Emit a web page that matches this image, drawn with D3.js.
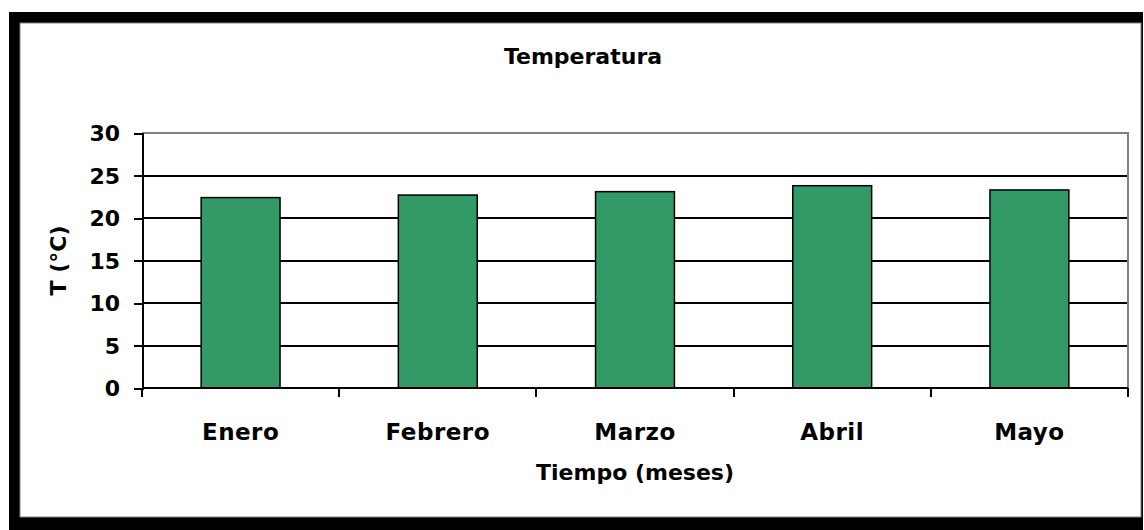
<!DOCTYPE html>
<html>
<head>
<meta charset="utf-8">
<script src="https://cdn.jsdelivr.net/npm/d3@7"></script>
<style>
  body { margin: 0; background: #fff; }
  text { font-family: "DejaVu Sans", sans-serif; font-weight: bold; fill: #000; }
</style>
</head>
<body>
<script>
const months = ["Enero", "Febrero", "Marzo", "Abril", "Mayo"];
const temps = [22.4, 22.7, 23.1, 23.8, 23.3];
const yTicks = [0, 5, 10, 15, 20, 25, 30];
const title = "Temperatura";
const xTitle = "Tiempo (meses)";
const yTitle = "T (°C)";

const W = 1144, H = 530;
const plot = {left: 142, right: 1128, top: 133, bottom: 388};

const svg = d3.select("body").append("svg")
  .attr("width", W).attr("height", H);

// frame: thick black border round the chart area
svg.append("rect").attr("x", 9).attr("y", 12)
  .attr("width", 1134).attr("height", 518).attr("fill", "#000");
svg.append("rect").attr("x", 20).attr("y", 23)
  .attr("width", 1121).attr("height", 494).attr("fill", "#fff")
  .attr("stroke", "#808080").attr("stroke-width", 1);

const x = d3.scaleBand().domain(months)
  .range([plot.left, plot.right])
  .paddingInner(0.6).paddingOuter(0.3);
const y = d3.scaleLinear().domain([0, 30]).range([plot.bottom, plot.top]);

// gridlines (hidden behind bars)
svg.append("g").selectAll("line")
  .data(yTicks.filter(d => d > 0 && d < 30))
  .join("line")
  .attr("x1", plot.left).attr("x2", plot.right)
  .attr("y1", d => Math.round(y(d))).attr("y2", d => Math.round(y(d)))
  .attr("stroke", "#000").attr("stroke-width", 2)
  .attr("shape-rendering", "crispEdges");

// plot area border, top and right
svg.append("path")
  .attr("d", `M${plot.left},${plot.top}H${plot.right}V${plot.bottom}`)
  .attr("fill", "none").attr("stroke", "#808080").attr("stroke-width", 2)
  .attr("shape-rendering", "crispEdges");

// bars
svg.append("g").selectAll("rect")
  .data(months)
  .join("rect")
  .attr("x", d => x(d))
  .attr("y", (d, i) => y(temps[i]))
  .attr("width", x.bandwidth())
  .attr("height", (d, i) => y(0) - y(temps[i]))
  .attr("fill", "#339966")
  .attr("stroke", "#000").attr("stroke-width", 1.5);

// y axis
const gy = svg.append("g")
  .attr("transform", `translate(${plot.left},0)`)
  .call(d3.axisLeft(y).tickValues(yTicks).tickSize(8).tickPadding(14));
gy.select(".domain").attr("stroke", "#000").attr("stroke-width", 2)
  .attr("shape-rendering", "crispEdges");
gy.selectAll(".tick line").attr("stroke", "#000").attr("stroke-width", 2)
  .attr("shape-rendering", "crispEdges");
gy.selectAll("text").style("font-size", "22px").attr("dy", "0.36em");

// x axis: labels centred in bands, ticks at category boundaries
const gap = (x.step() - x.bandwidth()) / 2;
const bounds = months.map(m => x(m) - gap)
  .concat([x(months[months.length - 1]) + x.bandwidth() + gap]);

const gx = svg.append("g")
  .attr("transform", `translate(0,${plot.bottom})`)
  .call(d3.axisBottom(x).tickSize(0).tickPadding(52));
gx.select(".domain").remove();
gx.selectAll("text").style("font-size", "23px").attr("dy", 0)
  .style("letter-spacing", "0.5px");

svg.append("line")
  .attr("x1", plot.left).attr("x2", plot.right)
  .attr("y1", plot.bottom).attr("y2", plot.bottom)
  .attr("stroke", "#000").attr("stroke-width", 2)
  .attr("shape-rendering", "crispEdges");
svg.append("g").selectAll("line")
  .data(bounds)
  .join("line")
  .attr("x1", d => Math.round(d)).attr("x2", d => Math.round(d))
  .attr("y1", plot.bottom).attr("y2", plot.bottom + 9)
  .attr("stroke", "#000").attr("stroke-width", 2)
  .attr("shape-rendering", "crispEdges");

// titles
svg.append("text")
  .attr("x", 583).attr("y", 64)
  .attr("text-anchor", "middle")
  .style("font-size", "22px")
  .text(title);

svg.append("text")
  .attr("x", (plot.left + plot.right) / 2).attr("y", 480)
  .attr("text-anchor", "middle")
  .style("font-size", "22px")
  .text(xTitle);

svg.append("text")
  .attr("transform", `translate(66,${(plot.top + plot.bottom) / 2}) rotate(-90)`)
  .attr("text-anchor", "middle")
  .style("font-size", "22px")
  .text(yTitle);
</script>
</body>
</html>
